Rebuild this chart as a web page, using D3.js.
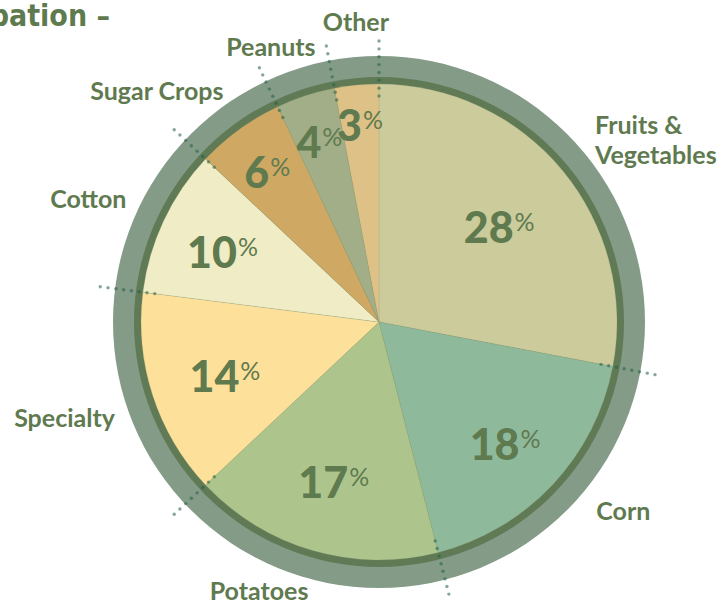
<!DOCTYPE html>
<html>
<head>
<meta charset="utf-8">
<script src="https://cdn.jsdelivr.net/npm/d3@7"></script>
<style>
  body { margin: 0; background: #fff; }
  svg { display: block; }
</style>
</head>
<body>
<script>
const width = 723;
const height = 607;

// data
const crops = ["Fruits & Vegetables", "Corn", "Potatoes", "Specialty", "Cotton", "Sugar Crops", "Peanuts", "Other"];
const shares = [28, 18, 17, 14, 10, 6, 4, 3];
const colors = ["#cbcb9b", "#8fb99b", "#adc58d", "#fde19b", "#f0edc6", "#cfa963", "#a2ae87", "#ddc187"];

// label placement (angle in degrees from top, radius, anchor)
const nameLayout = {
    "Fruits & Vegetables": [50, 282, "start"],
    "Corn": [131, 288, "start"],
    "Potatoes": [204, 295, "middle"],
    "Specialty": [250, 281, "end"],
    "Cotton": [296, 281, "end"],
    "Sugar Crops": [326, 278, "end"],
    "Peanuts": [338.5, 295, "middle"],
    "Other": [355.6, 301, "middle"]
};
// radius of the big percentage label per slice
const pctRadius = [156, 173, 162, 162, 173, 190, 193, 202];

const cx = 379, cy = 322;
const rPie = 238, rBand = 245, rRing = 266;
const textColor = "#5f7a4f";

const svg = d3.select("body")
    .append("svg")
    .attr("width", width)
    .attr("height", height);

// cut off title at the top
svg.append("text")
    .attr("x", 110)
    .attr("y", 26)
    .attr("text-anchor", "end")
    .attr("font-family", "DejaVu Sans")
    .attr("font-stretch", "condensed")
    .attr("font-weight", "bold")
    .attr("font-size", 30)
    .attr("fill", textColor)
    .text("Participation –");

const g = svg.append("g")
    .attr("transform", "translate(" + cx + "," + cy + ")");

// outer rings
g.append("circle").attr("r", rRing).attr("fill", "#849b87");
g.append("circle").attr("r", rBand).attr("fill", "#5f7a55");

const pie = d3.pie().sort(null).value(d => d)(shares);
const arc = d3.arc().innerRadius(0).outerRadius(rPie);

g.selectAll(".slice")
    .data(pie)
    .enter()
    .append("path")
    .attr("class", "slice")
    .attr("d", arc)
    .attr("fill", (d, i) => colors[i])
    .attr("stroke", "#8f9a72")
    .attr("stroke-opacity", 0.35)
    .attr("stroke-width", 0.6);

// dotted leaders on every slice boundary
const dotR = d3.range(8).map(k => 226 + k * 7.85);
pie.forEach(p => {
    const a = p.startAngle;
    g.selectAll(null)
        .data(dotR)
        .enter()
        .append("circle")
        .attr("cx", r => r * Math.sin(a))
        .attr("cy", r => -r * Math.cos(a))
        .attr("r", 1.7)
        .attr("fill", "#1f5f45")
        .attr("fill-opacity", 0.55);
});

// percentage labels
pie.forEach((p, i) => {
    const mid = (p.startAngle + p.endAngle) / 2;
    const r = pctRadius[i];
    const t = g.append("text")
        .attr("x", r * Math.sin(mid))
        .attr("y", -r * Math.cos(mid))
        .attr("dy", 20)
        .attr("text-anchor", "middle")
        .attr("font-family", "Lato")
        .attr("fill", textColor);
    t.append("tspan")
        .attr("font-size", 43)
        .attr("font-weight", 900)
        .text(shares[i]);
    t.append("tspan")
        .attr("font-size", 25)
        .attr("font-weight", 400)
        .attr("dx", 1)
        .attr("dy", -12)
        .text("%");
});

// category names
crops.forEach(name => {
    const [deg, r, anchor] = nameLayout[name];
    const a = deg * Math.PI / 180;
    const x = r * Math.sin(a), y = -r * Math.cos(a);
    const lines = name === "Fruits & Vegetables" ? ["Fruits &", "Vegetables"] : [name];
    const t = g.append("text")
        .attr("text-anchor", anchor)
        .attr("font-family", "Lato")
        .attr("font-weight", 700)
        .attr("font-size", 25)
        .attr("fill", textColor);
    lines.forEach((line, k) => {
        t.append("tspan")
            .attr("x", x)
            .attr("y", y + (k - (lines.length - 1) / 2) * 30)
            .attr("dy", "0.35em")
            .text(line);
    });
});
</script>
</body>
</html>
